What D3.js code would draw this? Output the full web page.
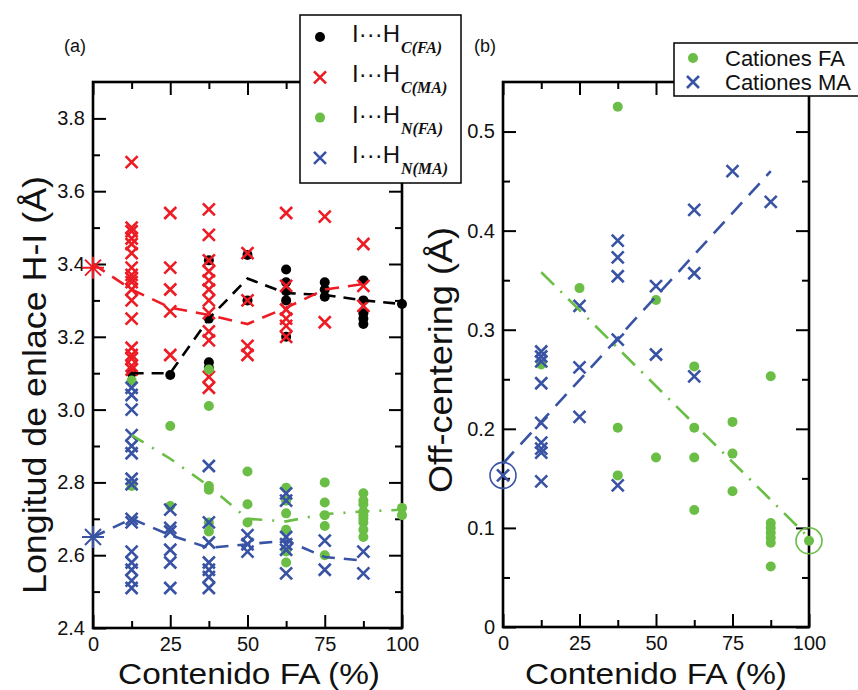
<!DOCTYPE html>
<html><head><meta charset="utf-8">
<script src="https://cdn.jsdelivr.net/npm/d3@7"></script>
<style>
body{margin:0;background:#fff}
svg{display:block}
text{font-family:"Liberation Sans",Arial,Helvetica,sans-serif;fill:#111}
</style></head>
<body><svg id="c" width="858" height="690"></svg>
<script>
// ---------- tick values ----------
const xMajorTicks = [0,25,50,75,100];
const xMinorTicks = [12.5,37.5,62.5,87.5];
const leftYMajor = [2.4,2.6,2.8,3.0,3.2,3.4,3.6,3.8];
const leftYMinor = [2.5,2.7,2.9,3.1,3.3,3.5,3.7];
const rightYMajor = [0,0.1,0.2,0.3,0.4,0.5];
const rightYMinor = [0.05,0.15,0.25,0.35,0.45];

// ---------- panel (a) data: [FA %, bond length Å] ----------
const hcFA = [[12.5,3.10],[25,3.095],[37.5,3.41],[37.5,3.25],[37.5,3.13],[37.5,3.115],
  [50,3.425],[50,3.30],[62.5,3.385],[62.5,3.35],[62.5,3.325],[62.5,3.30],[62.5,3.20],
  [75,3.35],[75,3.33],[75,3.31],[87.5,3.355],[87.5,3.30],[87.5,3.265],[87.5,3.25],[87.5,3.235],[100,3.29]];
const hcMA = [[12.5,3.68],[12.5,3.50],[12.5,3.49],[12.5,3.47],[12.5,3.455],[12.5,3.43],[12.5,3.39],
  [12.5,3.37],[12.5,3.36],[12.5,3.35],[12.5,3.33],[12.5,3.30],[12.5,3.25],[12.5,3.17],[12.5,3.15],
  [12.5,3.14],[12.5,3.12],[12.5,3.11],
  [25,3.54],[25,3.39],[25,3.33],[25,3.27],[25,3.15],
  [37.5,3.55],[37.5,3.48],[37.5,3.41],[37.5,3.38],[37.5,3.355],[37.5,3.33],[37.5,3.30],[37.5,3.265],
  [37.5,3.215],[37.5,3.19],[37.5,3.09],[37.5,3.06],
  [50,3.43],[50,3.30],[50,3.175],[50,3.15],
  [62.5,3.54],[62.5,3.34],[62.5,3.275],[62.5,3.25],[62.5,3.23],[62.5,3.20],
  [75,3.53],[75,3.24],[87.5,3.455],[87.5,3.34],[87.5,3.285]];
const hnFA = [[12.5,3.08],[12.5,2.79],[25,2.955],[25,2.735],
  [37.5,3.11],[37.5,3.01],[37.5,2.79],[37.5,2.78],[37.5,2.69],[37.5,2.665],
  [50,2.83],[50,2.74],[50,2.69],
  [62.5,2.785],[62.5,2.75],[62.5,2.715],[62.5,2.67],[62.5,2.61],[62.5,2.58],
  [75,2.80],[75,2.745],[75,2.71],[75,2.68],[75,2.60],
  [87.5,2.77],[87.5,2.75],[87.5,2.74],[87.5,2.72],[87.5,2.71],[87.5,2.70],[87.5,2.69],[87.5,2.67],[87.5,2.65],
  [100,2.73],[100,2.71]];
const hnMA = [[12.5,3.06],[12.5,3.04],[12.5,3.00],[12.5,2.93],[12.5,2.90],[12.5,2.88],[12.5,2.81],[12.5,2.795],
  [12.5,2.70],[12.5,2.69],[12.5,2.61],[12.5,2.58],[12.5,2.56],[12.5,2.53],[12.5,2.51],
  [25,2.725],[25,2.675],[25,2.665],[25,2.615],[25,2.58],[25,2.51],
  [37.5,2.845],[37.5,2.69],[37.5,2.635],[37.5,2.58],[37.5,2.56],[37.5,2.54],[37.5,2.51],
  [50,2.655],[50,2.63],[50,2.61],
  [62.5,2.77],[62.5,2.75],[62.5,2.65],[62.5,2.63],[62.5,2.615],[62.5,2.55],
  [75,2.64],[75,2.56],[87.5,2.61],[87.5,2.55]];
const starPoints = [[0,3.39,"cMA"],[0,2.65,"nMA"]];
// mean curves
const lineCFA = [[12.5,3.10],[25,3.10],[37.5,3.25],[50,3.36],[62.5,3.32],[75,3.315],[87.5,3.30],[100,3.29]];
const lineCMA = [[0,3.40],[12.5,3.33],[25,3.28],[37.5,3.26],[50,3.235],[62.5,3.28],[75,3.33],[87.5,3.345]];
const lineNFA = [[12.5,2.93],[25,2.865],[37.5,2.79],[50,2.70],[62.5,2.693],[75,2.713],[87.5,2.72],[100,2.725]];
const lineNMA = [[0,2.65],[12.5,2.70],[25,2.655],[37.5,2.62],[50,2.63],[62.5,2.64],[75,2.595],[87.5,2.585]];

// ---------- panel (b) data: [FA %, off-centering Å] ----------
const ocFA = [[12.5,0.265],[25,0.342],[37.5,0.525],[37.5,0.201],[37.5,0.153],[50,0.330],[50,0.171],
  [62.5,0.263],[62.5,0.201],[62.5,0.171],[62.5,0.118],[75,0.207],[75,0.175],[75,0.137],
  [87.5,0.253],[87.5,0.105],[87.5,0.10],[87.5,0.095],[87.5,0.09],[87.5,0.085],[87.5,0.061],[100,0.087]];
const ocMA = [[0,0.153],[12.5,0.278],[12.5,0.273],[12.5,0.268],[12.5,0.246],[12.5,0.206],[12.5,0.186],
  [12.5,0.180],[12.5,0.176],[12.5,0.147],[25,0.324],[25,0.262],[25,0.212],
  [37.5,0.390],[37.5,0.373],[37.5,0.354],[37.5,0.290],[37.5,0.143],[50,0.344],[50,0.275],
  [62.5,0.421],[62.5,0.357],[62.5,0.253],[75,0.46],[87.5,0.429]];
const fitFA = [[12.5,0.358],[100,0.09]];
const fitMA = [[0,0.165],[87.5,0.46]];
const ringPoints = [[0,0.153,"MA"],[100,0.087,"FA"]];

// ---------- style ----------
const C = {black:"#000", red:"#ed1c24", green:"#6abd45", blue:"#3953a4"};

const svg = d3.select("#c");
const xL = d3.scaleLinear().domain([0,100]).range([93,402]);
const yL = d3.scaleLinear().domain([2.4,3.9]).range([628,82]);
const xR = d3.scaleLinear().domain([0,100]).range([503,809]);
const yR = d3.scaleLinear().domain([0,0.55]).range([627,82]);

function axes(x, y, yMaj, yMin, yFmt){
  const g = svg.append("g");
  const [x0,x1] = x.range(), [yb,yt] = y.range();
  const add = (axis, tr) => {
    const a = g.append("g").attr("transform", tr).call(axis);
    a.select(".domain").remove();
    a.selectAll(".tick line").attr("stroke","#000").attr("stroke-width",2);
    a.selectAll("text").attr("font-size",20).attr("fill","#222")
      .attr("font-family","'Liberation Sans',Arial,sans-serif");
    return a;
  };
  add(d3.axisBottom(x).tickValues(xMajorTicks).tickSize(-13).tickPadding(9).tickFormat(d3.format("d")), `translate(0,${yb})`);
  add(d3.axisBottom(x).tickValues(xMinorTicks).tickSize(-7).tickFormat(""), `translate(0,${yb})`);
  add(d3.axisTop(x).tickValues(xMajorTicks).tickSize(-13).tickFormat(""), `translate(0,${yt})`);
  add(d3.axisTop(x).tickValues(xMinorTicks).tickSize(-7).tickFormat(""), `translate(0,${yt})`);
  add(d3.axisLeft(y).tickValues(yMaj).tickSize(-13).tickPadding(8).tickFormat(yFmt), `translate(${x0},0)`);
  add(d3.axisLeft(y).tickValues(yMin).tickSize(-7).tickFormat(""), `translate(${x0},0)`);
  add(d3.axisRight(y).tickValues(yMaj).tickSize(-13).tickFormat(""), `translate(${x1},0)`);
  add(d3.axisRight(y).tickValues(yMin).tickSize(-7).tickFormat(""), `translate(${x1},0)`);
  g.append("rect").attr("x",x0).attr("y",yt).attr("width",x1-x0).attr("height",yb-yt)
    .attr("fill","none").attr("stroke","#000").attr("stroke-width",2.6);
}
axes(xL, yL, leftYMajor, leftYMinor, d3.format(".1f"));
axes(xR, yR, rightYMajor, rightYMinor, d => d===0 ? "0" : d3.format(".1f")(d));

// markers
function dots(g, data, x, y, color, r=5){
  g.selectAll(null).data(data).join("circle")
    .attr("cx", d=>x(d[0])).attr("cy", d=>y(d[1])).attr("r", r).attr("fill", color);
}
function crosses(g, data, x, y, color, s=6){
  g.selectAll(null).data(data).join("path")
    .attr("d", d=>{const cx=x(d[0]), cy=y(d[1]);
      return `M${cx-s},${cy-s}L${cx+s},${cy+s}M${cx-s},${cy+s}L${cx+s},${cy-s}`;})
    .attr("stroke", color).attr("stroke-width", 2.6).attr("fill","none");
}
function line(g, data, x, y, color, dash, w=2.6){
  g.append("path").datum(data)
    .attr("d", d3.line().x(d=>x(d[0])).y(d=>y(d[1])))
    .attr("fill","none").attr("stroke",color).attr("stroke-width",w)
    .attr("stroke-dasharray",dash);
}

const gA = svg.append("g");
dots(gA, hcFA, xL, yL, C.black);
crosses(gA, hcMA, xL, yL, C.red);
dots(gA, hnFA, xL, yL, C.green);
crosses(gA, hnMA, xL, yL, C.blue);
line(gA, lineCFA, xL, yL, C.black, "12,8");
line(gA, lineCMA, xL, yL, C.red, "14,9");
line(gA, lineNFA, xL, yL, C.green, "14,10,2,10");
line(gA, lineNMA, xL, yL, C.blue, "13,9");
// stars at 0 %
gA.selectAll(null).data(starPoints).join("path")
  .attr("d", d=>{const cx=xL(d[0]), cy=yL(d[1]), s=11, t=8;
    return `M${cx-s},${cy}L${cx+s},${cy}M${cx},${cy-s}L${cx},${cy+s}M${cx-t},${cy-t}L${cx+t},${cy+t}M${cx-t},${cy+t}L${cx+t},${cy-t}`;})
  .attr("stroke", d=> d[2]==="cMA" ? C.red : C.blue).attr("stroke-width",2).attr("fill","none");

const gB = svg.append("g");
dots(gB, ocFA, xR, yR, C.green);
crosses(gB, ocMA, xR, yR, C.blue);
line(gB, fitFA, xR, yR, C.green, "18,9,2,9");
line(gB, fitMA, xR, yR, C.blue, "16,10");
gB.selectAll(null).data(ringPoints).join("circle")
  .attr("cx", d=>xR(d[0])).attr("cy", d=>yR(d[1])).attr("r",13)
  .attr("fill","none").attr("stroke", d=> d[2]==="MA" ? C.blue : C.green).attr("stroke-width",1.6);

// ---------- titles ----------
svg.append("text").attr("x",75).attr("y",52).attr("text-anchor","middle").attr("font-size",18).text("(a)");
svg.append("text").attr("x",485).attr("y",52).attr("text-anchor","middle").attr("font-size",18).text("(b)");
[249,656].forEach(cx=>{
  svg.append("text").attr("x",cx).attr("y",684).attr("text-anchor","middle")
    .attr("font-size",29).attr("textLength",262).attr("lengthAdjust","spacingAndGlyphs")
    .text("Contenido FA (%)");
});
svg.append("text").attr("transform","translate(46,385) rotate(-90)").attr("text-anchor","middle")
  .attr("font-size",34).attr("textLength",418).attr("lengthAdjust","spacingAndGlyphs")
  .text("Longitud de enlace H-I (Å)");
svg.append("text").attr("transform","translate(452,360) rotate(-90)").attr("text-anchor","middle")
  .attr("font-size",34).attr("textLength",266).attr("lengthAdjust","spacingAndGlyphs")
  .text("Off-centering (Å)");

// ---------- legend (a) ----------
const legA = [
  {type:"dot", color:C.black, sub:"C(FA)"},
  {type:"x", color:C.red, sub:"C(MA)"},
  {type:"dot", color:C.green, sub:"N(FA)"},
  {type:"x", color:C.blue, sub:"N(MA)"}
];
const lg = svg.append("g");
lg.append("rect").attr("x",300).attr("y",15).attr("width",161).attr("height",168)
  .attr("fill","#fff").attr("stroke","#000").attr("stroke-width",1.5);
legA.forEach((d,i)=>{
  const by = 42 + i*40.3, my = by - 5;
  if(d.type==="dot") lg.append("circle").attr("cx",320).attr("cy",my).attr("r",5).attr("fill",d.color);
  else lg.append("path").attr("d",`M314,${my-6}L326,${my+6}M314,${my+6}L326,${my-6}`)
    .attr("stroke",d.color).attr("stroke-width",2.6);
  const t = lg.append("text").attr("x",352).attr("y",by).attr("font-size",24);
  t.append("tspan").text("I\u00b7\u00b7\u00b7H");
  t.append("tspan").attr("dx",1).attr("dy",11).attr("font-size",16)
    .attr("font-family","'Liberation Serif','Times New Roman',serif")
    .attr("font-weight","bold").attr("font-style","italic").text(d.sub);
});

// ---------- legend (b) ----------
const legB = [{type:"dot", color:C.green, label:"Cationes FA"},{type:"x", color:C.blue, label:"Cationes MA"}];
const lb = svg.append("g");
lb.append("rect").attr("x",674).attr("y",43).attr("width",200).attr("height",53)
  .attr("fill","#fff").attr("stroke","#000").attr("stroke-width",1.5);
legB.forEach((d,i)=>{
  const by = 66 + i*24, my = 58 + i*24;
  if(d.type==="dot") lb.append("circle").attr("cx",693).attr("cy",my).attr("r",5).attr("fill",d.color);
  else lb.append("path").attr("d",`M687,${my-6}L699,${my+6}M687,${my+6}L699,${my-6}`)
    .attr("stroke",d.color).attr("stroke-width",2.6);
  lb.append("text").attr("x",725).attr("y",by).attr("font-size",22).text(d.label);
});
</script>
</body></html>
